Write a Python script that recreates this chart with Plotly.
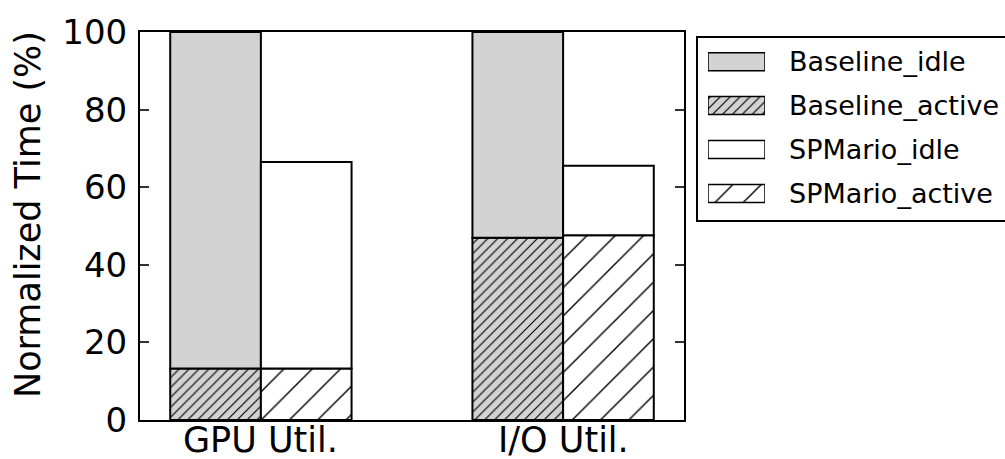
import plotly.graph_objects as go

# ---- data ----
categories = ["GPU Util.", "I/O Util."]
baseline_active = [13.3, 47.0]
baseline_idle = [86.7, 53.0]
spmario_active = [13.3, 47.6]
spmario_idle = [53.2, 17.9]
y_ticks = [0, 20, 40, 60, 80, 100]
legend_names = ["Baseline_idle", "Baseline_active", "SPMario_idle", "SPMario_active"]

W, H = 1005, 459
FONT = "DejaVu Sans"

# plot box in pixels
PX_L, PX_R, PX_T, PX_B = 140, 684, 32, 420


def px_x(p):
    return p / W


def px_y(p):
    return (H - p) / H


group_pos = list(range(len(categories)))
bar_w = 0.3

GRAY = "#d3d3d3"
EDGE = dict(color="black", width=2)
# plotly's "/" tile is size*sqrt(2) wide, so these give ~10px and ~28px line spacing
DENSE_HATCH = dict(shape="/", fgcolor="black", bgcolor=GRAY, size=7, solidity=0.17)
SPARSE_HATCH = dict(shape="/", fgcolor="black", bgcolor="white", size=20, solidity=0.07)

fig = go.Figure()

# baseline stack (left bar of each group)
fig.add_trace(go.Bar(
    x=group_pos, y=baseline_active, base=[0] * len(group_pos),
    width=bar_w, offset=-bar_w,
    marker=dict(color=GRAY, line=EDGE, pattern=DENSE_HATCH),
    showlegend=False, hoverinfo="skip"))
fig.add_trace(go.Bar(
    x=group_pos, y=baseline_idle, base=baseline_active,
    width=bar_w, offset=-bar_w,
    marker=dict(color=GRAY, line=EDGE),
    showlegend=False, hoverinfo="skip"))

# SPMario stack (right bar of each group)
fig.add_trace(go.Bar(
    x=group_pos, y=spmario_active, base=[0] * len(group_pos),
    width=bar_w, offset=0,
    marker=dict(color="white", line=EDGE, pattern=SPARSE_HATCH),
    showlegend=False, hoverinfo="skip"))
fig.add_trace(go.Bar(
    x=group_pos, y=spmario_idle, base=spmario_active,
    width=bar_w, offset=0,
    marker=dict(color="white", line=EDGE),
    showlegend=False, hoverinfo="skip"))

# legend swatches, drawn on a small hidden axis pair
swatch_styles = [
    dict(color=GRAY),
    dict(color=GRAY, pattern=DENSE_HATCH),
    dict(color="white"),
    dict(color="white", pattern=SPARSE_HATCH),
]
for i, st in enumerate(swatch_styles):
    fig.add_trace(go.Bar(
        x=[1], y=[i], base=[0], orientation="h", width=0.41,
        marker=dict(line=dict(color="black", width=1.5), **st),
        xaxis="x2", yaxis="y2", showlegend=False, hoverinfo="skip"))

row_y = [61.7, 105.6, 149.5, 193.4]
annotations = []
for name, ry in zip(legend_names, row_y):
    annotations.append(dict(
        text=name, x=px_x(787), y=px_y(ry), xref="paper", yref="paper",
        xanchor="left", yanchor="middle", showarrow=False,
        font=dict(family=FONT, size=27, color="black")))

# category labels under the groups
for pos, cat in zip(group_pos, categories):
    annotations.append(dict(
        text=cat, x=pos, y=px_y(440), xref="x", yref="paper",
        xanchor="center", yanchor="middle", showarrow=False,
        font=dict(family=FONT, size=35, color="black")))

annotations.append(dict(
    text="Normalized Time (%)", x=px_x(28), y=px_y(215), xref="paper", yref="paper",
    xanchor="center", yanchor="middle", textangle=-90, showarrow=False,
    font=dict(family=FONT, size=35, color="black")))

shapes = [dict(type="rect", xref="paper", yref="paper",
               x0=px_x(697), x1=px_x(1012), y0=px_y(221), y1=px_y(37),
               line=dict(color="black", width=2), fillcolor="rgba(0,0,0,0)")]

fig.update_layout(
    width=W, height=H,
    template="none",
    barmode="overlay",
    paper_bgcolor="white", plot_bgcolor="white",
    margin=dict(l=0, r=0, t=0, b=0, pad=0, autoexpand=False),
    font=dict(family=FONT, color="black"),
    xaxis=dict(
        domain=[px_x(PX_L), px_x(PX_R)], range=[-0.4, 1.4],
        tickmode="array", tickvals=group_pos, ticktext=categories,
        showticklabels=False,
        ticks="", showgrid=False, zeroline=False,
        showline=True, linecolor="black", linewidth=2, mirror=True,
        automargin=False),
    yaxis=dict(
        domain=[px_y(PX_B), px_y(PX_T)], range=[0, 100],
        tickmode="array", tickvals=y_ticks,
        ticks="inside", ticklen=9, tickwidth=1.5, tickcolor="#333",
        showgrid=False, zeroline=False,
        showline=True, linecolor="black", linewidth=2, mirror="ticks",
        tickfont=dict(family=FONT, size=34, color="black"),
        ticklabelstandoff=4, automargin=False),
    xaxis2=dict(domain=[px_x(708), px_x(765)], range=[0, 1], visible=False,
                anchor="y2", fixedrange=True),
    yaxis2=dict(domain=[px_y(215.35), px_y(39.75)], range=[3.5, -0.5], visible=False,
                anchor="x2", fixedrange=True),
    annotations=annotations,
    shapes=shapes,
    showlegend=False,
)

fig.write_html("out.html")
